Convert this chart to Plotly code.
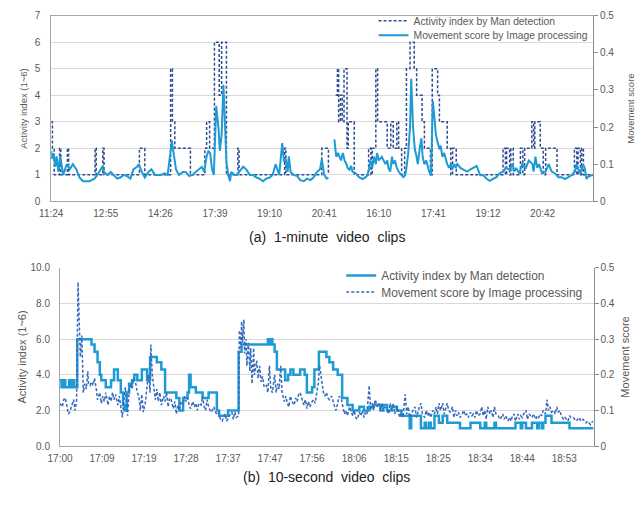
import plotly.graph_objects as go

# ---------------- (a) 1-minute video clips ----------------
a_tick_idx = [0, 91, 182, 273, 364, 455, 546, 637, 728, 819]
a_tick_lbl = ["11:24", "12:55", "14:26", "17:39", "19:10", "20:41",
              "16:10", "17:41", "19:12", "20:42"]

# Activity index by Man detection (change points, minute index -> level)
a_act_min = [0, 2, 5, 14, 16, 27, 29, 73, 75, 86, 88, 147, 156, 199, 202, 206,
             232, 256, 259, 264, 272, 280, 284, 292, 311, 313, 389, 391, 451, 462, 466,
             474, 477, 479, 482, 485, 488, 493, 495, 505,
             529, 533, 535, 541, 544,
             560, 566, 570, 576, 579, 584, 589,
             592, 598, 605, 609, 618, 622, 632, 635, 644, 647, 660, 666, 669, 675,
             753, 757, 759, 764, 766, 770,
             782, 786, 789, 801, 804, 806, 815, 820, 824, 843,
             872, 876, 878, 882, 884, 887, 903]
a_act_val = [3, 2, 1, 2, 1, 2, 1, 2, 1, 2, 1, 2, 1, 5, 3, 2,
             1, 2, 3, 2, 6, 4, 6, 1, 2, 1, 2, 1, 2, 1, None,
             4, 5, 3, 4, 3, 5, 2, 3, 1,
             2, 1, 2, 5, 3,
             2, 3, 2, 3, 2, 1, 2,
             5, 6, 5, 4, 3, 2, 1, 5, 4, 3, 2, 1, 2, 1,
             2, 1, 2, 1, 2, 1,
             2, 1, 2, 3, 2, 3, 2, 1, 2, 1,
             2, 1, 2, 1, 2, 1, 1]

# Movement score by Image processing (minute index -> score)
a_mov_min = [0, 1, 4, 7, 9, 12, 15, 20, 26, 31,
             36, 42, 47, 53, 64, 72, 77, 85, 88, 94,
             99, 105, 110, 115, 121, 126, 132, 137, 143, 146,
             151, 156, 162, 167, 173, 178, 183, 189, 194, 199,
             201, 204, 208, 213, 219, 224, 230, 235, 241, 246,
             251, 255, 259, 262, 265, 268, 271, 275, 279, 281,
             284, 287, 290, 292, 295, 298, 300, 306, 309, 315,
             320, 325, 331, 336, 342, 347, 353, 358, 364, 369,
             374, 380, 385, 388, 391, 394, 396, 399, 404, 410,
             415, 421, 426, 432, 437, 443, 448, 451, 455, 459,
             462, 466,
             472, 475, 478, 481, 483, 486, 489, 492, 494, 497,
             500, 502, 508, 513, 519, 524, 527, 530, 532, 535,
             538, 541, 543, 546, 551, 557, 560, 562, 565, 568,
             570, 573, 576, 579, 581, 584, 587, 590, 592, 595,
             598, 600, 603, 606, 609, 611, 614, 617, 619, 622,
             625, 628, 630, 633, 636, 639, 641, 644, 647, 649,
             652, 655, 658, 660, 663, 666, 668, 671, 674, 677,
             682, 687, 693, 698, 704, 709, 715, 720, 726, 731,
             736, 742, 747, 753, 758, 764, 769, 772, 775, 780,
             785, 791, 796, 802, 804, 807, 810, 813, 818, 824,
             829, 832, 834, 840, 845, 851, 856, 862, 867, 873,
             875, 878, 881, 883, 886, 889, 892, 894, 900, 903]
a_mov_val = [0.136, 0.114, 0.129, 0.093, 0.121, 0.079, 0.121, 0.071, 0.1, 0.086,
             0.1, 0.086, 0.064, 0.054, 0.054, 0.061, 0.071, 0.093, 0.079, 0.071,
             0.079, 0.068, 0.061, 0.064, 0.071, 0.068, 0.061, 0.086, 0.093, 0.1,
             0.079, 0.064, 0.079, 0.086, 0.071, 0.071, 0.071, 0.075, 0.071, 0.136,
             0.164, 0.129, 0.086, 0.071, 0.079, 0.079, 0.068, 0.071, 0.079, 0.086,
             0.093, 0.079, 0.121, 0.136, 0.129, 0.086, 0.071, 0.257, 0.193, 0.136,
             0.179, 0.314, 0.179, 0.107, 0.071, 0.054, 0.079, 0.071, 0.071, 0.082,
             0.093, 0.086, 0.071, 0.071, 0.064, 0.061, 0.054, 0.061, 0.064, 0.071,
             0.1, 0.071, 0.157, 0.107, 0.114, 0.079, 0.121, 0.079, 0.071, 0.068,
             0.057, 0.054, 0.061, 0.057, 0.064, 0.079, 0.086, 0.114, 0.071, 0.061,
             0.064, None,
             0.167, 0.12, 0.13, 0.12, 0.11, 0.13, 0.11, 0.10, 0.09, 0.085,
             0.095, 0.08, 0.075, 0.065, 0.06, 0.065, 0.07, 0.09, 0.11, 0.09,
             0.12, 0.10, 0.13, 0.11, 0.12, 0.10, 0.11, 0.09, 0.08, 0.12,
             0.10, 0.11, 0.09, 0.08, 0.075, 0.07, 0.065, 0.07, 0.09, 0.13,
             0.20, 0.33, 0.20, 0.14, 0.12, 0.10, 0.14, 0.17, 0.12, 0.10,
             0.11, 0.09, 0.08, 0.07, 0.27, 0.22, 0.18, 0.16, 0.14, 0.15,
             0.12, 0.13, 0.11, 0.10, 0.09, 0.10, 0.085, 0.10, 0.09, 0.10,
             0.09, 0.085, 0.08, 0.085, 0.09, 0.095, 0.07, 0.07, 0.06, 0.055,
             0.06, 0.065, 0.075, 0.08, 0.09, 0.085, 0.10, 0.08, 0.09, 0.075,
             0.10, 0.09, 0.11, 0.10, 0.08, 0.12, 0.09, 0.10, 0.075, 0.08,
             0.10, 0.085, 0.08, 0.075, 0.065, 0.065, 0.06, 0.065, 0.07, 0.08,
             0.10, 0.09, 0.075, 0.08, 0.10, 0.09, 0.06, 0.065, 0.07, 0.07]

# ---------------- (b) 10-second video clips ----------------
b_tick_idx = [0, 56, 112, 168, 224, 280, 336, 392, 448, 504, 560, 616, 672]
b_tick_lbl = ["17:00", "17:09", "17:19", "17:28", "17:37", "17:47", "17:56",
              "18:06", "18:15", "18:25", "18:34", "18:44", "18:53"]

# Activity index by Man detection (change points, clip index -> level)
b_act_clip = [0, 2, 5, 7, 10, 12, 14, 17, 19, 23,
              42, 46, 50, 53, 55, 61, 68, 72, 77, 81,
              84, 86, 89, 92, 96, 99, 103, 109, 116, 120,
              129, 135, 140, 155, 159, 164, 170, 172, 174, 181,
              190, 198, 209, 212, 224, 238, 242, 277, 279, 280,
              283, 286, 289, 300, 304, 307, 311, 320, 326, 329,
              336, 339, 345, 355, 359, 364, 370, 376, 383, 390,
              399, 405, 412, 418, 427, 431, 436, 442, 449, 455,
              466, 468, 481, 486, 488, 492, 494, 499, 505, 510,
              516, 533, 547, 560, 566, 568, 579, 581, 586, 607,
              614, 616, 621, 629, 636, 638, 642, 644, 647, 655,
              679, 711]
b_act_val = [3.7, 3.3, 3.7, 3.3, 3.3, 3.7, 3.3, 3.7, 3.3, 6.0,
             5.7, 5.3, 4.7, 4.0, 3.7, 3.3, 3.7, 4.3, 3.7, 3.0,
             2.3, 2.0, 3.0, 3.5, 3.7, 4.0, 3.7, 4.3, 3.7, 5.0,
             4.7, 4.3, 3.0, 2.7, 2.0, 2.7, 3.0, 4.0, 3.3, 3.0,
             2.7, 3.0, 2.0, 1.7, 2.0, 5.3, 5.7, 6.0, 5.7, 6.0,
             5.7, 5.3, 4.3, 3.7, 4.0, 4.3, 4.0, 4.3, 4.0, 3.0,
             3.3, 4.3, 5.3, 5.0, 4.7, 4.3, 4.0, 2.7, 2.3, 2.0,
             2.2, 2.0, 2.2, 2.3, 2.0, 2.3, 2.0, 2.2, 2.0, 1.7,
             1.0, 1.7, 1.0, 1.3, 1.0, 1.3, 1.0, 1.7, 1.3, 1.7,
             1.3, 1.0, 1.3, 1.0, 1.3, 1.0, 1.3, 1.0, 1.0, 1.3,
             1.0, 1.3, 1.0, 1.3, 1.0, 1.3, 1.0, 1.3, 1.7, 1.3,
             1.0, 1.0]

# Movement score by Image processing (clip index -> score)
b_mov_clip = [0, 3, 5, 7, 9, 11, 13, 16, 18, 20,
              22, 24, 26, 27, 29, 30, 31, 33, 35, 37,
              38, 40, 42, 44, 46, 48, 50, 53, 55, 57,
              59, 61, 64, 66, 68, 70, 72, 74, 77, 79,
              81, 83, 85, 87, 90, 92, 94, 96, 98, 101,
              103, 105, 107, 109, 111, 114, 116, 118, 120, 121,
              123, 125, 127, 129, 131, 133, 135, 138, 140, 142,
              144, 146, 148, 151, 153, 155, 157, 159, 161, 164,
              166, 168, 170, 172, 174, 177, 179, 181, 183, 185,
              188, 190, 192, 194, 196, 198, 201, 203, 205, 207,
              209, 211, 214, 216, 218, 220, 222, 225, 227, 229,
              231, 233, 235, 238, 239, 241, 242, 243, 245, 246,
              248, 249, 251, 253, 254, 256, 258, 259, 262, 264,
              266, 268, 270, 272, 275, 277, 279, 281, 283, 286,
              288, 290, 292, 294, 296, 299, 301, 303, 305, 307,
              309, 312, 314, 316, 318, 320, 322, 325, 327, 329,
              331, 333, 336, 338, 340, 342, 344, 346, 349, 351,
              353, 355, 357, 359, 362, 364, 366, 368, 370, 372,
              375, 377, 379, 381, 383, 386, 388, 390, 392, 394,
              396, 399, 401, 403, 405, 407, 409, 412, 414, 416,
              418, 420, 423, 425, 427, 429, 431, 433, 436, 438,
              440, 442, 444, 446, 449, 451, 453, 455, 457, 460,
              462, 464, 466, 468, 470, 473, 475, 477, 479, 481,
              483, 486, 488, 490, 492, 494, 497, 499, 501, 503,
              505, 507, 510, 512, 514, 516, 518, 520, 523, 525,
              527, 529, 531, 533, 536, 538, 540, 542, 544, 547,
              549, 551, 553, 555, 557, 560, 562, 564, 566, 568,
              570, 573, 575, 577, 579, 581, 584, 586, 588, 590,
              592, 594, 597, 599, 601, 603, 605, 607, 610, 612,
              614, 616, 618, 621, 623, 625, 627, 629, 631, 634,
              636, 638, 640, 642, 644, 647, 649, 651, 653, 655,
              658, 660, 662, 664, 666, 668, 671, 673, 675, 677,
              679, 681, 684, 686, 688, 690, 692, 694, 697, 699,
              701, 703, 705, 707, 710]
b_mov_val = [0.12, 0.11, 0.13, 0.135, 0.115, 0.09, 0.095, 0.115, 0.13, 0.10,
             0.125, 0.46, 0.325, 0.25, 0.31, 0.2, 0.15, 0.175, 0.16, 0.21,
             0.175, 0.17, 0.18, 0.17, 0.19, 0.165, 0.13, 0.15, 0.12, 0.14,
             0.125, 0.15, 0.115, 0.14, 0.125, 0.15, 0.13, 0.145, 0.115, 0.14,
             0.105, 0.08, 0.125, 0.165, 0.085, 0.15, 0.175, 0.16, 0.19, 0.175,
             0.15, 0.14, 0.10, 0.145, 0.095, 0.125, 0.17, 0.2, 0.15, 0.285,
             0.2, 0.165, 0.13, 0.16, 0.125, 0.15, 0.115, 0.14, 0.125, 0.15,
             0.11, 0.135, 0.13, 0.105, 0.125, 0.09, 0.115, 0.10, 0.125, 0.115,
             0.14, 0.125, 0.135, 0.115, 0.105, 0.125, 0.11, 0.12, 0.10, 0.12,
             0.115, 0.14, 0.11, 0.10, 0.13, 0.11, 0.095, 0.10, 0.11, 0.095,
             0.09, 0.095, 0.075, 0.07, 0.08, 0.09, 0.07, 0.085, 0.09, 0.095,
             0.075, 0.095, 0.08, 0.085, 0.325, 0.275, 0.35, 0.29, 0.355, 0.26,
             0.30, 0.225, 0.29, 0.21, 0.275, 0.175, 0.275, 0.2, 0.24, 0.19,
             0.225, 0.18, 0.195, 0.165, 0.17, 0.15, 0.225, 0.16, 0.15, 0.2,
             0.15, 0.175, 0.16, 0.225, 0.15, 0.125, 0.14, 0.12, 0.11, 0.14,
             0.125, 0.115, 0.135, 0.125, 0.145, 0.15, 0.135, 0.115, 0.13, 0.105,
             0.125, 0.11, 0.125, 0.13, 0.12, 0.15, 0.175, 0.225, 0.175, 0.15,
             0.14, 0.15, 0.135, 0.13, 0.14, 0.12, 0.11, 0.10, 0.12, 0.14,
             0.13, 0.11, 0.09, 0.10, 0.085, 0.11, 0.095, 0.085, 0.10, 0.08,
             0.075, 0.095, 0.085, 0.10, 0.08, 0.095, 0.09, 0.17, 0.10, 0.12,
             0.10, 0.13, 0.11, 0.12, 0.10, 0.12, 0.10, 0.11, 0.10, 0.09,
             0.12, 0.10, 0.12, 0.09, 0.11, 0.09, 0.08, 0.10, 0.08, 0.145,
             0.09, 0.11, 0.08, 0.09, 0.10, 0.11, 0.08, 0.10, 0.11, 0.12,
             0.09, 0.08, 0.10, 0.085, 0.095, 0.08, 0.10, 0.09, 0.11, 0.09,
             0.12, 0.10, 0.12, 0.09, 0.11, 0.12, 0.10, 0.095, 0.11, 0.08,
             0.10, 0.085, 0.095, 0.08, 0.09, 0.10, 0.085, 0.09, 0.08, 0.095,
             0.085, 0.09, 0.08, 0.10, 0.085, 0.09, 0.11, 0.085, 0.10, 0.075,
             0.11, 0.09, 0.10, 0.08, 0.11, 0.09, 0.085, 0.075, 0.08, 0.09,
             0.075, 0.085, 0.07, 0.08, 0.07, 0.085, 0.09, 0.07, 0.09, 0.075,
             0.085, 0.08, 0.09, 0.10, 0.075, 0.09, 0.085, 0.08, 0.09, 0.075,
             0.085, 0.08, 0.09, 0.085, 0.10, 0.09, 0.13, 0.10, 0.11, 0.095,
             0.10, 0.09, 0.11, 0.095, 0.10, 0.085, 0.075, 0.08, 0.075, 0.07,
             0.085, 0.08, 0.08, 0.075, 0.07, 0.075, 0.08, 0.07, 0.075, 0.07,
             0.065, 0.07, 0.065, 0.06, 0.07]

# ---------------- styling ----------------
W, H = 643, 506
LIGHT = "#1E9BD4"
NAVY = "#2E4C93"
MID = "#3469BC"
TXT = "#595959"
GRID = "#D9D9D9"
AXL = "#A6A6A6"
FONT = "Liberation Sans"
CLEAR = "rgba(0,0,0,0)"


def px_x(p):
    return p / W


def px_y(p):
    return 1 - p / H


fig = go.Figure()

fig.add_trace(go.Scatter(
    x=a_act_min, y=a_act_val, name="Activity index by Man detection",
    mode="lines", line=dict(color=NAVY, width=1.5, dash="3px,2px", shape="hv"),
    xaxis="x", yaxis="y", legend="legend"))
fig.add_trace(go.Scatter(
    x=a_mov_min, y=a_mov_val, name="Movement score by Image processing",
    mode="lines", line=dict(color=LIGHT, width=2),
    xaxis="x", yaxis="y2", legend="legend3"))

fig.add_trace(go.Scatter(
    x=b_act_clip, y=b_act_val, name="Activity index by Man detection",
    mode="lines", line=dict(color=LIGHT, width=2.5, shape="hv"),
    xaxis="x2", yaxis="y3", legend="legend2"))
fig.add_trace(go.Scatter(
    x=b_mov_clip, y=b_mov_val, name="Movement score by Image processing",
    mode="lines", line=dict(color=MID, width=1.5, dash="3px,2px"),
    xaxis="x2", yaxis="y4", legend="legend4"))

tickfont = dict(family=FONT, size=10, color=TXT)
title_a = dict(family=FONT, size=9.5, color=TXT)
title_b = dict(family=FONT, size=11, color=TXT)


def leg(xp, yp, size):
    return dict(x=px_x(xp), y=px_y(yp), xanchor="left", yanchor="middle",
                bgcolor=CLEAR, font=dict(family=FONT, size=size, color=TXT),
                itemwidth=30, tracegroupgap=0)


fig.update_layout(
    width=W, height=H,
    margin=dict(l=0, r=0, t=0, b=0),
    paper_bgcolor="white", plot_bgcolor="white",
    font=dict(family=FONT, color=TXT),
    xaxis=dict(domain=[px_x(39), px_x(592)], range=[0, 903], anchor="y",
               tickmode="array", tickvals=a_tick_idx, ticktext=a_tick_lbl,
               showgrid=False, zeroline=False, showline=True, linecolor=AXL,
               mirror=True, ticks="outside", ticklen=3, tickcolor=CLEAR,
               tickfont=tickfont),
    yaxis=dict(domain=[px_y(200), px_y(10)], range=[0, 7], dtick=1, anchor="x",
               showgrid=True, gridcolor=GRID, zeroline=False, showline=True,
               linecolor=AXL, ticks="outside", ticklen=8, tickcolor=CLEAR,
               tickfont=tickfont,
               title=dict(text="Activity index (1~6)", font=title_a, standoff=5)),
    yaxis2=dict(range=[0, 0.5], dtick=0.1, overlaying="y", side="right", anchor="x",
                showgrid=False, zeroline=False, showline=True, linecolor="#8C8C8C",
                ticks="outside", ticklen=4, tickcolor="#8C8C8C", tickfont=tickfont,
                title=dict(text="Movement score", font=title_a, standoff=13)),
    xaxis2=dict(domain=[px_x(48), px_x(592.5)], range=[0, 711], anchor="y3",
                tickmode="array", tickvals=b_tick_idx, ticktext=b_tick_lbl,
                showgrid=False, zeroline=False, showline=True, linecolor=AXL,
                ticks="outside", ticklen=3, tickcolor=CLEAR, tickfont=tickfont),
    yaxis3=dict(domain=[px_y(450.7), px_y(268.3)], range=[0, 10], dtick=2,
                tickformat=".1f", anchor="x2",
                showgrid=True, gridcolor=GRID, zeroline=False, showline=True,
                linecolor=AXL, ticks="outside", ticklen=7, tickcolor=CLEAR,
                tickfont=tickfont,
                title=dict(text="Activity index (1~6)", font=title_b, standoff=1)),
    yaxis4=dict(range=[0, 0.5], dtick=0.1, overlaying="y3", side="right", anchor="x2",
                showgrid=False, zeroline=False, showline=True, linecolor="#8C8C8C",
                ticks="outside", ticklen=4, tickcolor="#8C8C8C", tickfont=tickfont,
                title=dict(text="Movement score", font=title_b, standoff=7)),
    legend=leg(368, 15, 10.3),
    legend3=leg(368, 30, 10.3),
    legend2=leg(335, 276, 11.9),
    legend4=leg(335, 293, 11.9),
    showlegend=True,
    annotations=[
        dict(text="(a)  1-minute  video  clips", x=px_x(320), y=px_y(237),
             xref="paper", yref="paper", showarrow=False,
             font=dict(family=FONT, size=14, color="#222222")),
        dict(text="(b)  10-second  video  clips", x=px_x(320), y=px_y(493),
             xref="paper", yref="paper", showarrow=False,
             font=dict(family=FONT, size=14, color="#222222")),
    ],
)

fig.write_html("out.html")
